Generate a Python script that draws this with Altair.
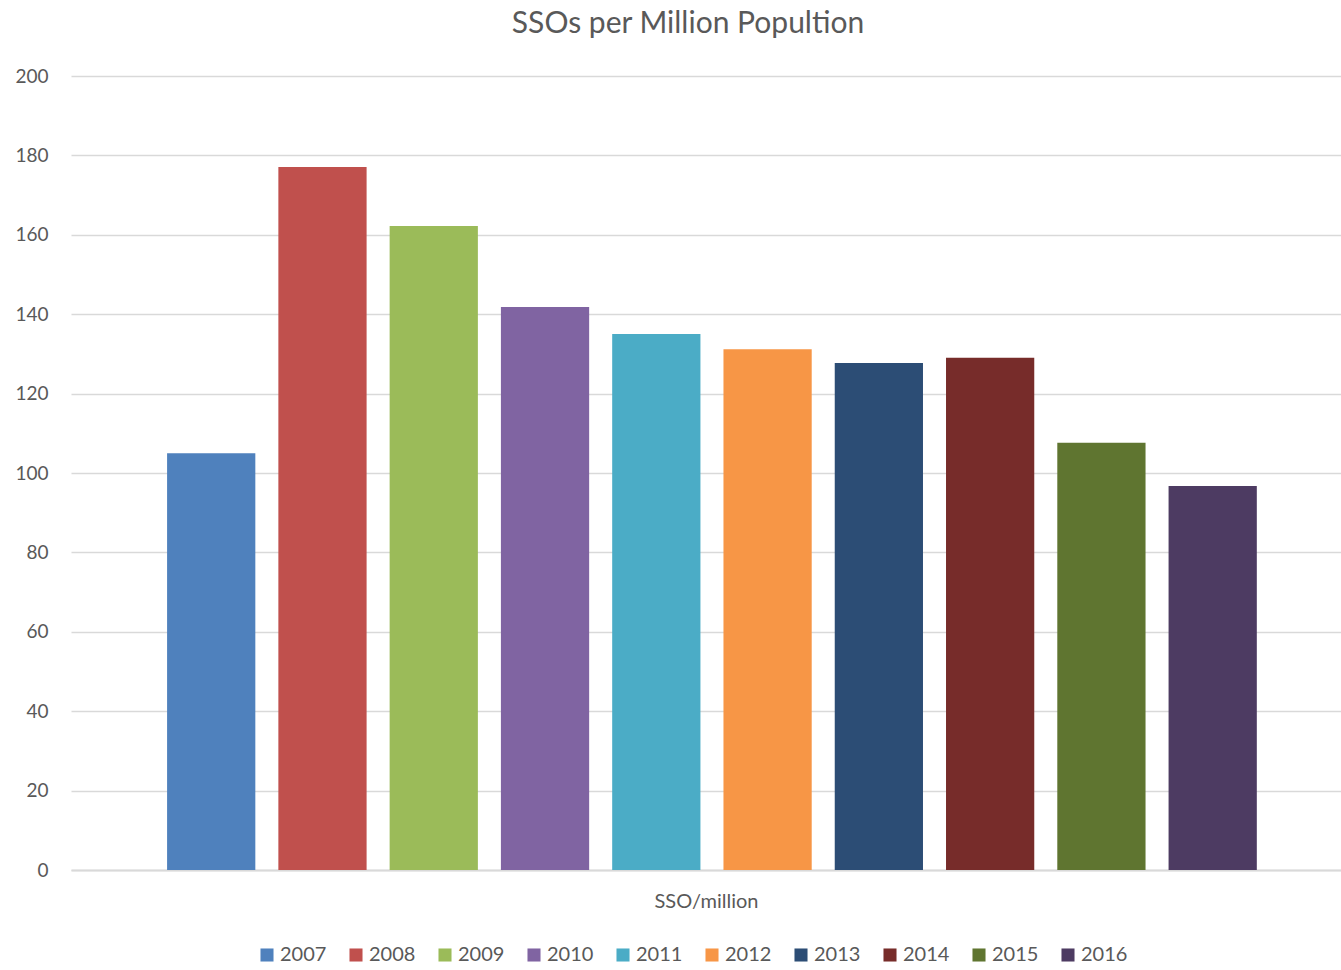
import altair as alt
import pandas as pd

years = ["2007", "2008", "2009", "2010", "2011", "2012", "2013", "2014", "2015", "2016"]
values = [105.0, 177.1, 162.2, 141.8, 135.0, 131.2, 127.7, 129.0, 107.6, 96.7]
colors = ["#4F81BD", "#C0504D", "#9BBB59", "#8064A2", "#4BACC6",
          "#F79646", "#2C4D75", "#772C2A", "#5F7530", "#4D3B62"]

df = pd.DataFrame({"year": years, "value": values})

FONT = "Lato"
GREY = "#595959"

chart = alt.Chart(df).mark_bar().encode(
    x=alt.X("year:N", sort=years,
            scale=alt.Scale(paddingInner=0.207, paddingOuter=0.81, align=0.533),
            axis=alt.Axis(title="SSO/million", labels=False, ticks=False, grid=False,
                          domainColor="#d9d9d9", domainWidth=2,
                          titleFont=FONT, titleFontSize=20, titleFontWeight="normal",
                          titleColor=GREY, titlePadding=21)),
    y=alt.Y("value:Q", scale=alt.Scale(domain=[0, 200]),
            axis=alt.Axis(title=None, values=list(range(0, 201, 20)),
                          domain=False, ticks=False, labelPadding=23,
                          labelFont=FONT, labelFontSize=19, labelColor=GREY,
                          gridColor="#d9d9d9", gridWidth=1.5)),
    color=alt.Color("year:N", sort=years,
                    scale=alt.Scale(domain=years, range=colors),
                    legend=alt.Legend(title=None, orient="none", direction="horizontal",
                                      legendX=186, legendY=869,
                                      symbolType="square", symbolSize=170,
                                      symbolStrokeWidth=0,
                                      labelFont=FONT, labelFontSize=20, labelColor=GREY,
                                      columnPadding=19, labelOffset=3)),
).properties(
    width=1270,
    height=794,
    background="white",
    title=alt.Title("SSOs per Million Popultion", font=FONT, fontSize=30,
                    fontWeight="normal", color=GREY, offset=28, dx=-18),
    autosize=alt.AutoSizeParams(type="none"),
    padding={"left": 71, "top": 76, "right": 0, "bottom": 100},
).configure_view(stroke=None)

chart.save("out.html", embed_options={"renderer": "svg", "actions": False})
